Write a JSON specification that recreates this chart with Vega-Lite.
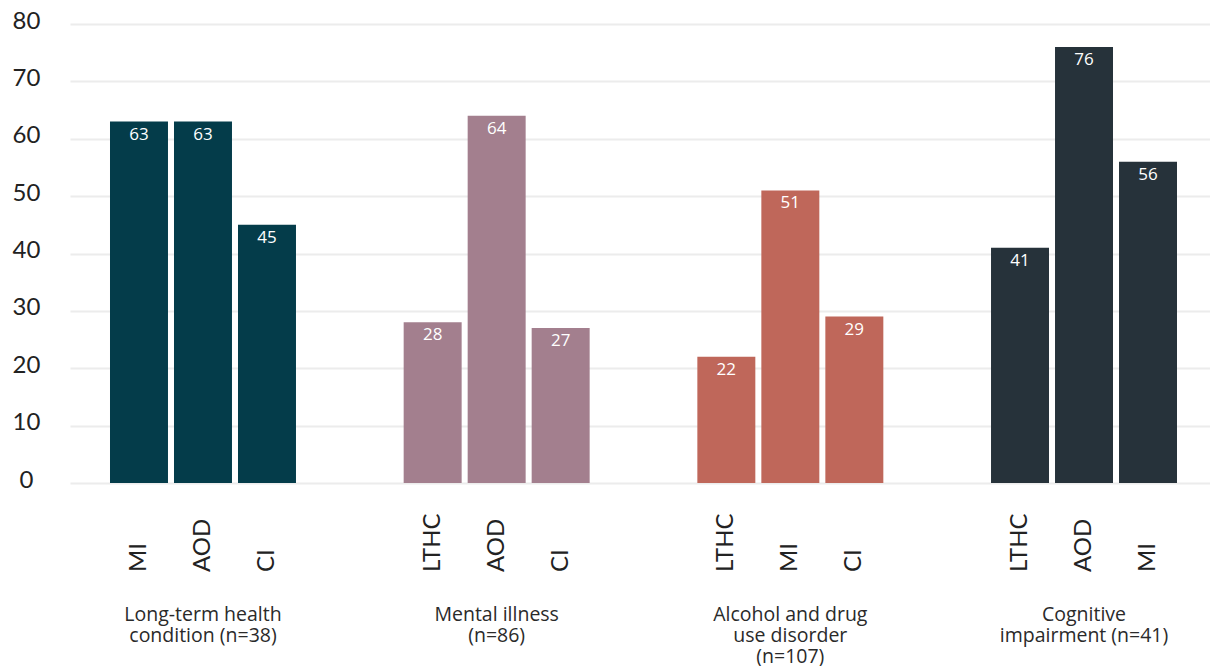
{
  "$schema": "https://vega.github.io/schema/vega-lite/v6.json",
  "width": 1140,
  "height": 459,
  "autosize": {"type": "none"},
  "padding": {"left": 70, "top": 24, "right": 0, "bottom": 183},
  "background": "white",
  "config": {
    "view": {"stroke": null},
    "font": "Lato",
    "text": {"font": "Lato"}
  },
  "data": {
    "values": [
      {"group": "Long-term health|condition (n=38)", "sub": "MI", "idx": 0, "value": 63},
      {"group": "Long-term health|condition (n=38)", "sub": "AOD", "idx": 1, "value": 63},
      {"group": "Long-term health|condition (n=38)", "sub": "CI", "idx": 2, "value": 45},
      {"group": "Mental illness|(n=86)", "sub": "LTHC", "idx": 0, "value": 28},
      {"group": "Mental illness|(n=86)", "sub": "AOD", "idx": 1, "value": 64},
      {"group": "Mental illness|(n=86)", "sub": "CI", "idx": 2, "value": 27},
      {"group": "Alcohol and drug|use disorder|(n=107)", "sub": "LTHC", "idx": 0, "value": 22},
      {"group": "Alcohol and drug|use disorder|(n=107)", "sub": "MI", "idx": 1, "value": 51},
      {"group": "Alcohol and drug|use disorder|(n=107)", "sub": "CI", "idx": 2, "value": 29},
      {"group": "Cognitive|impairment (n=41)", "sub": "LTHC", "idx": 0, "value": 41},
      {"group": "Cognitive|impairment (n=41)", "sub": "AOD", "idx": 1, "value": 76},
      {"group": "Cognitive|impairment (n=41)", "sub": "MI", "idx": 2, "value": 56}
    ]
  },
  "encoding": {
    "x": {
      "field": "group",
      "type": "nominal",
      "sort": null,
      "scale": {"paddingInner": 0.3667, "paddingOuter": 0.1362, "range": [0, 1147]},
      "axis": {
        "title": null,
        "orient": "bottom",
        "labelAngle": 0,
        "domain": false,
        "ticks": false,
        "labelPadding": 122,
        "labelBaseline": "top",
        "labelFont": "Open Sans",
        "labelFontSize": 19.5,
        "labelLineHeight": 21,
        "labelColor": "#2a2a2a",
        "labelOverlap": false,
        "labelLimit": 400,
        "labelExpr": "split(datum.label, '|')"
      }
    },
    "xOffset": {
      "field": "idx",
      "type": "ordinal",
      "scale": {"paddingInner": 0.094, "paddingOuter": 0}
    }
  },
  "layer": [
    {
      "mark": {"type": "bar"},
      "encoding": {
        "y": {
          "field": "value",
          "type": "quantitative",
          "scale": {"domain": [0, 80], "nice": false},
          "axis": {
            "title": null,
            "values": [0, 10, 20, 30, 40, 50, 60, 70, 80],
            "domain": false,
            "ticks": false,
            "grid": true,
            "gridColor": "#ececec",
            "gridWidth": 2,
            "labelFontSize": 24,
            "labelColor": "#222222",
            "labelAlign": "center",
            "labelPadding": 44,
            "labelOffset": -3
          }
        },
        "color": {
          "field": "group",
          "type": "nominal",
          "sort": null,
          "scale": {"range": ["#043c4a", "#a37f8e", "#bf675a", "#26323a"]},
          "legend": null
        }
      }
    },
    {
      "mark": {"type": "text", "baseline": "top", "dy": 5, "fontSize": 17, "font": "Open Sans", "color": "white"},
      "encoding": {
        "y": {"field": "value", "type": "quantitative"},
        "text": {"field": "value", "type": "quantitative"}
      }
    },
    {
      "mark": {"type": "text", "angle": 270, "align": "left", "baseline": "middle", "dx": -89, "fontSize": 24, "color": "#222222"},
      "encoding": {
        "y": {"datum": 0, "type": "quantitative"},
        "text": {"field": "sub", "type": "nominal"}
      }
    }
  ]
}
